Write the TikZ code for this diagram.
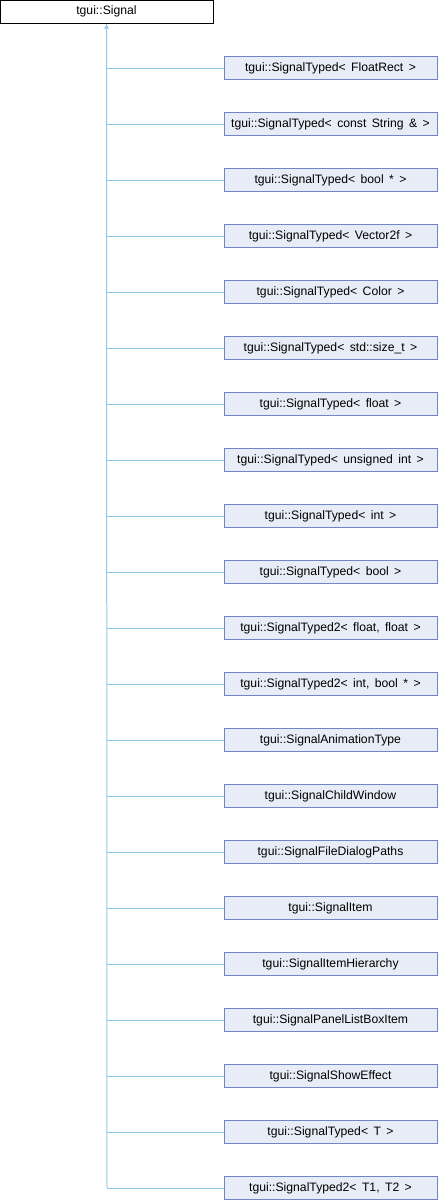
\documentclass[tikz,border=0pt]{standalone}
\usepackage{fontspec}
\setmainfont[WordSpace=1.6]{Liberation Sans}
\usetikzlibrary{arrows.meta}
\definecolor{boxfill}{HTML}{E8ECF6}
\definecolor{boxdraw}{HTML}{6F87C4}
\definecolor{linkc}{HTML}{94C8E8}
\begin{document}
\begin{tikzpicture}[x=1pt,y=-1pt,
  base/.style={draw=black, fill=white, line width=1pt, minimum width=213pt, minimum height=23pt, inner sep=0pt, font=\fontsize{12.2}{13}\selectfont},
  child/.style={draw=boxdraw, fill=boxfill, line width=1pt, minimum width=213pt, minimum height=23pt, inner sep=0pt, font=\fontsize{12.2}{13}\selectfont},
  link/.style={draw=linkc, line width=1pt}]
\useasboundingbox (0,0) rectangle (438,1200);
\node[base] (sig) at (106.5,11.5) {tgui::Signal};
\foreach \i/\t in {0/{tgui::SignalTyped< FloatRect >},
  1/{tgui::SignalTyped< const String \& >},
  2/{tgui::SignalTyped< bool * >},
  3/{tgui::SignalTyped< Vector2f >},
  4/{tgui::SignalTyped< Color >},
  5/{tgui::SignalTyped< std::size\_t >},
  6/{tgui::SignalTyped< float >},
  7/{tgui::SignalTyped< unsigned int >},
  8/{tgui::SignalTyped< int >},
  9/{tgui::SignalTyped< bool >},
  10/{tgui::SignalTyped2< float, float >},
  11/{tgui::SignalTyped2< int, bool * >},
  12/{tgui::SignalAnimationType},
  13/{tgui::SignalChildWindow},
  14/{tgui::SignalFileDialogPaths},
  15/{tgui::SignalItem},
  16/{tgui::SignalItemHierarchy},
  17/{tgui::SignalPanelListBoxItem},
  18/{tgui::SignalShowEffect},
  19/{tgui::SignalTyped< T >},
  20/{tgui::SignalTyped2< T1, T2 >}} {
  \node[child] (c\i) at (330.5,68+56*\i) {\t};
  \coordinate (j\i) at (107,68+56*\i);
  \draw[link] (j\i) -- (c\i.west);
}
\draw[link, -{Latex[length=5pt,width=5pt]}] (j20) -- (sig.south);
\end{tikzpicture}
\end{document}
